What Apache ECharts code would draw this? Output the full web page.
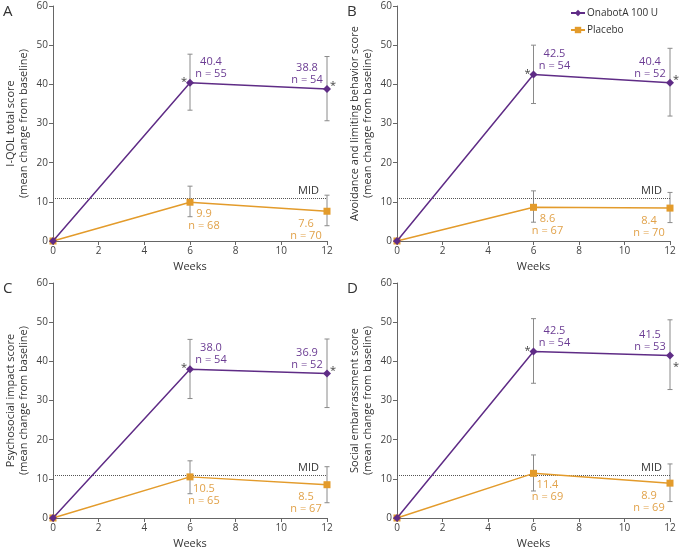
<!DOCTYPE html>
<html>
<head>
<meta charset="utf-8">
<script src="https://cdn.jsdelivr.net/npm/echarts@6/dist/echarts.min.js"></script>
<style>
html,body{margin:0;padding:0;background:#fff;}
#chart{width:680px;height:553px;}
</style>
</head>
<body>
<div id="chart"></div>
<script>
// ---------- DATA ----------
const weeks = [0, 6, 12];
const xTicks = [0, 2, 4, 6, 8, 10, 12];
const yTicks = [0, 10, 20, 30, 40, 50, 60];
const mid = 11;
const seriesNames = ['OnabotA 100 U', 'Placebo'];
const panelLetters = ['A', 'B', 'C', 'D'];
const yAxisNames = [
  'I-QOL total score\n(mean change from baseline)',
  'Avoidance and limiting behavior score\n(mean change from baseline)',
  'Psychosocial impact score\n(mean change from baseline)',
  'Social embarrassment score\n(mean change from baseline)'
];

// Panel A
const onabotA = [0, 40.4, 38.8];
const onabotN_A = [null, 55, 54];
const onabotErrA = [null, [33.4, 47.7], [30.7, 47.1]];
const placeboA = [0, 9.9, 7.6];
const placeboN_A = [null, 68, 70];
const placeboErrA = [null, [6.2, 14.0], [3.9, 11.7]];
// Panel B
const onabotB = [0, 42.5, 40.4];
const onabotN_B = [null, 54, 52];
const onabotErrB = [null, [35.1, 50.0], [31.9, 49.2]];
const placeboB = [0, 8.6, 8.4];
const placeboN_B = [null, 67, 70];
const placeboErrB = [null, [4.8, 12.8], [4.7, 12.4]];
// Panel C
const onabotC = [0, 38.0, 36.9];
const onabotN_C = [null, 54, 52];
const onabotErrC = [null, [30.5, 45.6], [28.2, 45.7]];
const placeboC = [0, 10.5, 8.5];
const placeboN_C = [null, 65, 67];
const placeboErrC = [null, [6.2, 14.6], [3.9, 13.1]];
// Panel D
const onabotD = [0, 42.5, 41.5];
const onabotN_D = [null, 54, 53];
const onabotErrD = [null, [34.4, 50.9], [32.8, 50.6]];
const placeboD = [0, 11.4, 8.9];
const placeboN_D = [null, 69, 69];
const placeboErrD = [null, [6.9, 16.1], [4.2, 13.8]];
// significance markers (index of week where * shown for OnabotA)
const starWeeksIdx = [1, 2];

// ---------- STYLE ----------
const FONT = '"Open Sans", "Noto Sans", sans-serif';
const PURPLE = '#5f2c86';
const ORANGE = '#e39b2b';
const PURPLE_TXT = '#6b3c93';
const ORANGE_TXT = '#e1a24a';
const AXIS = '#666';
const ERR = '#8a8a8a';

const panels = [
  {ona: onabotA, onaN: onabotN_A, onaErr: onabotErrA, pla: placeboA, plaN: placeboN_A, plaErr: placeboErrA},
  {ona: onabotB, onaN: onabotN_B, onaErr: onabotErrB, pla: placeboB, plaN: placeboN_B, plaErr: placeboErrB},
  {ona: onabotC, onaN: onabotN_C, onaErr: onabotErrC, pla: placeboC, plaN: placeboN_C, plaErr: placeboErrC},
  {ona: onabotD, onaN: onabotN_D, onaErr: onabotErrD, pla: placeboD, plaN: placeboN_D, plaErr: placeboErrD}
];
const grids = [
  {left: 53, top: 6, width: 274, height: 235},
  {left: 397, top: 6, width: 273, height: 235},
  {left: 53, top: 283, width: 274, height: 235},
  {left: 397, top: 283, width: 273, height: 235}
];
// per panel star vertical offset at week 12 (px)
const star12dy = [-6, -6, -6, 8];

const onaLabelOffsets = [null, [21, 6], [-20, 6]];
const plaLabelOffsets = [null, [14, -3], [-21, -2]];

const xAxes = [], yAxes = [], series = [], graphics = [];

function errRender(params, api) {
  const x = api.value(0), lo = api.value(1), hi = api.value(2);
  const p1 = api.coord([x, hi]), p2 = api.coord([x, lo]);
  const w = 2.5;
  const st = {stroke: ERR, lineWidth: 1};
  return {type: 'group', children: [
    {type: 'line', shape: {x1: p1[0], y1: p1[1], x2: p2[0], y2: p2[1]}, style: st},
    {type: 'line', shape: {x1: p1[0] - w, y1: p1[1], x2: p1[0] + w, y2: p1[1]}, style: st},
    {type: 'line', shape: {x1: p2[0] - w, y1: p2[1], x2: p2[0] + w, y2: p2[1]}, style: st}
  ]};
}

panels.forEach((p, i) => {
  xAxes.push({
    gridIndex: i, type: 'value', min: 0, max: 12, interval: 2,
    name: 'Weeks', nameLocation: 'middle', nameGap: 20,
    nameTextStyle: {fontFamily: FONT, fontSize: 11, color: '#333'},
    axisLine: {lineStyle: {color: AXIS, width: 1}},
    axisTick: {show: true, length: 4, lineStyle: {color: AXIS}},
    axisLabel: {fontFamily: FONT, fontSize: 10, color: '#444', margin: 5},
    splitLine: {show: false}
  });
  yAxes.push({
    gridIndex: i, type: 'value', min: 0, max: 60, interval: 10,
    name: yAxisNames[i], nameLocation: 'middle', nameGap: 23,
    nameTextStyle: {fontFamily: FONT, fontSize: 11, color: '#333', lineHeight: 13},
    axisLine: {show: true, lineStyle: {color: AXIS, width: 1}},
    axisTick: {show: true, length: 4, lineStyle: {color: AXIS}},
    axisLabel: {fontFamily: FONT, fontSize: 10, color: '#444', margin: 5},
    splitLine: {show: false}
  });

  const errData = [];
  [p.onaErr, p.plaErr].forEach(arr => arr.forEach((e, k) => { if (e) errData.push([weeks[k], e[0], e[1]]); }));
  series.push({
    type: 'custom', xAxisIndex: i, yAxisIndex: i, renderItem: errRender,
    data: errData, encode: {x: 0, y: [1, 2]}, z: 1, silent: true, clip: false
  });

  const onaData = weeks.map((w, k) => {
    const d = {value: [w, p.ona[k]]};
    if (p.onaN[k] != null) {
      d.label = {show: true, position: 'top', offset: onaLabelOffsets[k],
        formatter: p.ona[k].toFixed(1) + '\nn = ' + p.onaN[k]};
    }
    return d;
  });
  const plaData = weeks.map((w, k) => {
    const d = {value: [w, p.pla[k]]};
    if (p.plaN[k] != null) {
      d.label = {show: true, position: 'bottom', offset: plaLabelOffsets[k],
        formatter: p.pla[k].toFixed(1) + '\nn = ' + p.plaN[k]};
    }
    return d;
  });

  series.push({
    name: seriesNames[1], type: 'line', xAxisIndex: i, yAxisIndex: i,
    data: plaData, symbol: 'rect', symbolSize: 7, z: 3,
    itemStyle: {color: ORANGE}, lineStyle: {color: ORANGE, width: 1.5},
    label: {show: false, fontFamily: FONT, fontSize: 11, lineHeight: 12, color: ORANGE_TXT, align: 'center'},
    markLine: {
      silent: true, symbol: 'none', z: 2,
      data: [{yAxis: mid}],
      lineStyle: {type: 'dotted', color: '#555', width: 1},
      label: {formatter: 'MID', position: 'insideEndTop', distance: [8, 2], fontFamily: FONT, fontSize: 11, color: '#333'}
    }
  });
  series.push({
    name: seriesNames[0], type: 'line', xAxisIndex: i, yAxisIndex: i,
    data: onaData, symbol: 'diamond', symbolSize: 8, z: 4,
    itemStyle: {color: PURPLE}, lineStyle: {color: PURPLE, width: 1.5},
    label: {show: false, fontFamily: FONT, fontSize: 11, lineHeight: 12, color: PURPLE_TXT, align: 'center'}
  });

  // significance asterisks
  const starData = starWeeksIdx.map(k => [weeks[k], p.ona[k], k]);
  series.push({
    type: 'custom', xAxisIndex: i, yAxisIndex: i, silent: true, z: 5, clip: false,
    data: starData, encode: {x: 0, y: 1},
    renderItem: (params, api) => {
      const c = api.coord([api.value(0), api.value(1)]);
      const k = api.value(2);
      const dx = k === 1 ? -6 : 6;
      const dy = k === 1 ? -4 : star12dy[i];
      return {type: 'text', style: {text: '*', x: c[0] + dx, y: c[1] + dy + 3, align: 'center', verticalAlign: 'middle',
        font: '11px ' + FONT, fill: '#444'}};
    }
  });

  graphics.push({
    type: 'text', left: grids[i].left - 50, top: grids[i].top - 2,
    style: {text: panelLetters[i], font: '15px ' + FONT, fill: '#333'}
  });
});

const chart = echarts.init(document.getElementById('chart'), null, {renderer: 'canvas'});
chart.setOption({
  animation: false,
  backgroundColor: '#fff',
  textStyle: {fontFamily: FONT},
  grid: grids,
  xAxis: xAxes,
  yAxis: yAxes,
  legend: {
    orient: 'vertical', left: 565, top: 3, itemWidth: 14, itemHeight: 8, itemGap: 7,
    data: seriesNames,
    textStyle: {fontFamily: FONT, fontSize: 10, color: '#333', padding: [0, 0, 0, -3]}
  },
  graphic: graphics,
  series: series
});
</script>
</body>
</html>
